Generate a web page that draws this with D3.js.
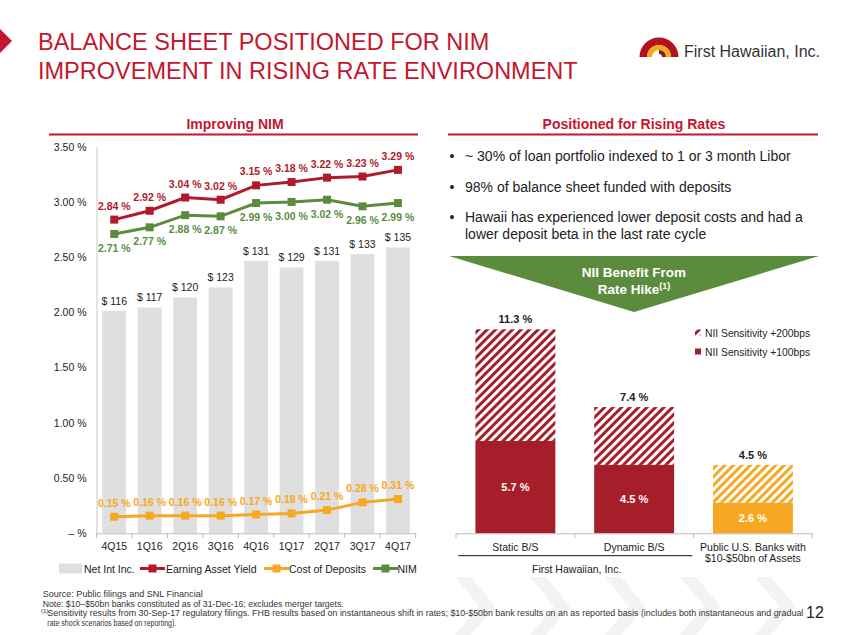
<!DOCTYPE html>
<html><head><meta charset="utf-8">
<script src="https://cdn.jsdelivr.net/npm/d3@7"></script>
<style>
body{margin:0;background:#fff;}
svg{display:block;font-family:"Liberation Sans",Arial,Helvetica,sans-serif;}
</style></head><body>
<svg id="c" width="847" height="635"></svg>
<script>
// ---------- DATA ----------
const quarters = ["4Q15","1Q16","2Q16","3Q16","4Q16","1Q17","2Q17","3Q17","4Q17"];
const netIntInc = [116,117,120,123,131,129,131,133,135];
const earningAssetYield = [2.84,2.92,3.04,3.02,3.15,3.18,3.22,3.23,3.29];
const nimValues = [2.71,2.77,2.88,2.87,2.99,3.00,3.02,2.96,2.99];
const costOfDeposits = [0.15,0.16,0.16,0.16,0.17,0.18,0.21,0.28,0.31];
const pctTicks = [0,0.5,1,1.5,2,2.5,3,3.5];
const pctTickLabels = ["– %","0.50 %","1.00 %","1.50 %","2.00 %","2.50 %","3.00 %","3.50 %"];
const leftLegend = ["Net Int Inc.","Earning Asset Yield","Cost of Deposits","NIM"];

const sensCategories = ["Static B/S","Dynamic B/S","Public U.S. Banks with|$10-$50bn of Assets"];
const sens100 = [5.7,4.5,2.6];
const sens200 = [11.3,7.4,4.5];
const rightLegend = ["NII Sensitivity +200bps","NII Sensitivity +100bps"];

const bullets = [
  ["~ 30% of loan portfolio indexed to 1 or 3 month Libor"],
  ["98% of balance sheet funded with deposits"],
  ["Hawaii has experienced lower deposit costs and had a","lower deposit beta in the last rate cycle"]
];
const footnotes = [
  "Source: Public filings and SNL Financial",
  "Note: $10–$50bn banks constituted as of 31-Dec-16; excludes merger targets.",
  "Sensitivity results from 30-Sep-17 regulatory filings.  FHB results based on instantaneous shift in rates; $10-$50bn bank results on an as reported basis (includes both instantaneous and gradual",
  "rate shock scenarios based on reporting)."
];

// ---------- STYLE ----------
const RED = "#C3172F", LINE_RED = "#B01A2B", BAR_RED = "#A61E29", GREEN = "#5B8C3E", ORANGE = "#F7A823", GRAY_BAR = "#DFDFDF", TXT = "#222";

const svg = d3.select("#c");
const defs = svg.append("defs");
function hatch(id, color){
  const p = defs.append("pattern").attr("id", id).attr("patternUnits","userSpaceOnUse")
    .attr("width", 6).attr("height", 6).attr("patternTransform","rotate(45)");
  p.append("rect").attr("width",6).attr("height",6).attr("fill","#fff");
  p.append("rect").attr("width",3).attr("height",6).attr("fill",color);
}
hatch("hRed", BAR_RED);
hatch("hOrange", ORANGE);

// faint background chevrons
const bg = svg.append("g").attr("fill","#f3f3f3");
[455,530,605,680,755].forEach(x=>{
  bg.append("path").attr("d",`M${x},577 L${x+16},577 L${x+40},606 L${x+16},635 L${x},635 L${x+24},606 Z`);
});

// ---------- HEADER ----------
svg.append("path").attr("d","M0,29 L12,41 L0,53 Z").attr("fill",RED);
svg.append("text").attr("x",38).attr("y",50).attr("font-size",23.5).attr("fill",RED)
  .text("BALANCE SHEET POSITIONED FOR NIM");
svg.append("text").attr("x",38).attr("y",79).attr("font-size",23.5).attr("fill",RED)
  .text("IMPROVEMENT IN RISING RATE ENVIRONMENT");
// logo
const logo = svg.append("g").attr("transform","translate(659,57)");
const arc = d3.arc();
logo.append("path").attr("d",arc({innerRadius:12,outerRadius:19.5,startAngle:-Math.PI/2,endAngle:Math.PI/2})).attr("fill","#B3131D");
logo.append("path").attr("d",arc({innerRadius:7,outerRadius:12,startAngle:-Math.PI/2,endAngle:Math.PI/2})).attr("fill","#F4A81D");
logo.append("path").attr("d",arc({innerRadius:3,outerRadius:7,startAngle:0,endAngle:Math.PI/2})).attr("fill","#8C1B1B");
svg.append("text").attr("x",684).attr("y",56.5).attr("font-size",16).attr("fill","#333").text("First Hawaiian, Inc.");

// ---------- PANEL TITLES ----------
function panelTitle(cx, x0, x1, label){
  svg.append("text").attr("x",cx).attr("y",129).attr("text-anchor","middle").attr("font-size",14)
    .attr("font-weight","bold").attr("fill",RED).text(label);
  svg.append("line").attr("x1",x0).attr("x2",x1).attr("y1",134.5).attr("y2",134.5).attr("stroke",RED).attr("stroke-width",2);
}
panelTitle(235, 49, 418, "Improving NIM");
panelTitle(634, 448, 818, "Positioned for Rising Rates");

// ---------- LEFT CHART ----------
const yL = d3.scaleLinear().domain([0,3.5]).range([533.3,146.7]);
const yBar = d3.scaleLinear().domain([49.3,165.2]).range([533.3,146.7]);
const xL = d3.scaleBand().domain(quarters).range([96.5,415.7]).paddingInner(0.33).paddingOuter(0.165);
const cx = q => xL(q) + xL.bandwidth()/2;

const gL = svg.append("g");
gL.selectAll("rect.bar").data(quarters).join("rect").attr("class","bar")
  .attr("x",q=>xL(q)).attr("width",xL.bandwidth())
  .attr("y",(q,i)=>yBar(netIntInc[i])).attr("height",(q,i)=>yL(0)-yBar(netIntInc[i]))
  .attr("fill",GRAY_BAR);
gL.selectAll("text.barlab").data(quarters).join("text").attr("class","barlab")
  .attr("x",cx).attr("y",(q,i)=>yBar(netIntInc[i])-6).attr("text-anchor","middle")
  .attr("font-size",10.5).attr("fill",TXT).text((q,i)=>"$ "+netIntInc[i]);

// y axis
const yAxis = d3.axisLeft(yL).tickValues(pctTicks).tickFormat((d,i)=>pctTickLabels[i]).tickSize(0).tickPadding(10);
const ya = gL.append("g").attr("transform","translate(96.5,0)").call(yAxis);
ya.select(".domain").attr("stroke","#c8c8c8");
ya.selectAll("text").attr("font-size",10.5).attr("fill",TXT).attr("font-family","Liberation Sans, Arial, sans-serif");

// x axis
const xAxis = d3.axisBottom(xL).tickSize(0).tickPadding(9);
const xa = gL.append("g").attr("transform","translate(0,533.3)").call(xAxis);
xa.select(".domain").attr("stroke","#bdbdbd");
xa.selectAll("text").attr("font-size",10.5).attr("fill",TXT).attr("font-family","Liberation Sans, Arial, sans-serif");
d3.range(quarters.length+1).forEach(i=>{
  const x = xL.range()[0] + i*xL.step();
  gL.append("line").attr("x1",x).attr("x2",x).attr("y1",533.3).attr("y2",538).attr("stroke","#bdbdbd");
});

function series(vals, color, labelOffset){
  const line = d3.line().x((d,i)=>cx(quarters[i])).y(d=>yL(d));
  gL.append("path").attr("d",line(vals)).attr("fill","none").attr("stroke",color).attr("stroke-width",3);
  gL.selectAll(null).data(vals).join("rect")
    .attr("x",(d,i)=>cx(quarters[i])-4).attr("y",d=>yL(d)-4).attr("width",8).attr("height",8).attr("fill",color);
  gL.selectAll(null).data(vals).join("text")
    .attr("x",(d,i)=>cx(quarters[i])).attr("y",d=>yL(d)+labelOffset).attr("text-anchor","middle")
    .attr("font-size",10.5).attr("font-weight","bold").attr("fill",color).text(d=>d.toFixed(2)+" %");
}
series(earningAssetYield, LINE_RED, -10);
series(nimValues, GREEN, 18);
series(costOfDeposits, ORANGE, -10);

// left legend
const legY = 568.5;
const lg = svg.append("g").attr("font-size",10.5).attr("fill",TXT);
lg.append("rect").attr("x",59).attr("y",legY-5).attr("width",23).attr("height",10).attr("fill",GRAY_BAR);
lg.append("text").attr("x",84).attr("y",legY+4).text(leftLegend[0]);
[[140,LINE_RED,166,1],[264,ORANGE,289,2],[373,GREEN,397.5,3]].forEach(([x,c,tx,i])=>{
  lg.append("line").attr("x1",x).attr("x2",x+25).attr("y1",legY).attr("y2",legY).attr("stroke",c).attr("stroke-width",3);
  lg.append("rect").attr("x",x+8.5).attr("y",legY-4).attr("width",8).attr("height",8).attr("fill",c);
  lg.append("text").attr("x",tx).attr("y",legY+4).text(leftLegend[i]);
});

// ---------- RIGHT PANEL ----------
const bl = [[160.5],[192],[222,239]];
bullets.forEach((lines,i)=>{
  svg.append("text").attr("x",449.5).attr("y",bl[i][0]).attr("font-size",14).attr("fill",TXT).text("•");
  lines.forEach((t,j)=>{
    svg.append("text").attr("x",465).attr("y",bl[i][j]).attr("font-size",14).attr("fill",TXT).text(t);
  });
});

svg.append("path").attr("d","M449,256 L819,256 L634,312 Z").attr("fill",GREEN);
svg.append("text").attr("x",634).attr("y",277).attr("text-anchor","middle").attr("font-size",13.5)
  .attr("font-weight","bold").attr("fill","#fff").text("NII Benefit From");
const rh = svg.append("text").attr("x",634).attr("y",294).attr("text-anchor","middle").attr("font-size",13.5)
  .attr("font-weight","bold").attr("fill","#fff");
rh.append("tspan").text("Rate Hike");
rh.append("tspan").attr("font-size",9).attr("dy",-5).text("(1)");

const xR = d3.scaleBand().domain(sensCategories).range([456,812.3]).paddingInner(0.327).paddingOuter(0.1635);
const yR = d3.scaleLinear().domain([1.07,11.3]).range([533.3,329.3]);
const gR = svg.append("g");
const solidCol = [BAR_RED, BAR_RED, ORANGE];
const hatchCol = ["url(#hRed)","url(#hRed)","url(#hOrange)"];
gR.selectAll("rect.h").data(sensCategories).join("rect").attr("class","h")
  .attr("x",c=>xR(c)).attr("width",xR.bandwidth())
  .attr("y",(c,i)=>yR(sens200[i])).attr("height",(c,i)=>yR(sens100[i])-yR(sens200[i]))
  .attr("fill",(c,i)=>hatchCol[i]);
gR.selectAll("rect.s").data(sensCategories).join("rect").attr("class","s")
  .attr("x",c=>xR(c)).attr("width",xR.bandwidth())
  .attr("y",(c,i)=>yR(sens100[i])).attr("height",(c,i)=>yR.range()[0]-yR(sens100[i]))
  .attr("fill",(c,i)=>solidCol[i]);
gR.selectAll("text.t").data(sensCategories).join("text").attr("class","t")
  .attr("x",c=>xR(c)+xR.bandwidth()/2).attr("y",(c,i)=>yR(sens200[i])-6).attr("text-anchor","middle")
  .attr("font-size",11).attr("font-weight","bold").attr("fill",TXT).text((c,i)=>sens200[i].toFixed(1)+" %");
gR.selectAll("text.i").data(sensCategories).join("text").attr("class","i")
  .attr("x",c=>xR(c)+xR.bandwidth()/2).attr("y",(c,i)=>(yR(sens100[i])+yR.range()[0])/2+4).attr("text-anchor","middle")
  .attr("font-size",11).attr("font-weight","bold").attr("fill","#fff").text((c,i)=>sens100[i].toFixed(1)+" %");

const xRa = gR.append("g").attr("transform","translate(0,533.3)").call(d3.axisBottom(xR).tickSize(0).tickFormat(""));
xRa.select(".domain").attr("stroke","#bdbdbd");
d3.range(sensCategories.length+1).forEach(i=>{
  const x = xR.range()[0] + i*xR.step();
  gR.append("line").attr("x1",x).attr("x2",x).attr("y1",533.3).attr("y2",538).attr("stroke","#bdbdbd");
});
sensCategories.forEach(c=>{
  c.split("|").forEach((t,j)=>{
    gR.append("text").attr("x",xR(c)+xR.bandwidth()/2).attr("y",550.5+j*11.7).attr("text-anchor","middle")
      .attr("font-size",10.5).attr("fill",TXT).text(t);
  });
});
gR.append("line").attr("x1",458.3).attr("x2",692.3).attr("y1",555.7).attr("y2",555.7).attr("stroke","#111");
gR.append("text").attr("x",576.7).attr("y",573).attr("text-anchor","middle").attr("font-size",10.5).attr("fill",TXT).text("First Hawaiian, Inc.");

// right legend
const rl = svg.append("g").attr("font-size",10.3).attr("fill",TXT);
rl.append("rect").attr("x",695).attr("y",329.5).attr("width",6).attr("height",6).attr("fill","url(#hRed)");
rl.append("text").attr("x",705).attr("y",337).text(rightLegend[0]);
rl.append("rect").attr("x",695).attr("y",348.5).attr("width",6).attr("height",6).attr("fill",BAR_RED);
rl.append("text").attr("x",705).attr("y",356).text(rightLegend[1]);

// ---------- FOOTER ----------
const ft = svg.append("g").attr("font-size",8.6).attr("fill","#333");
const fLines = [[42.7,597,160],[42.7,606.5,301],[47.3,616,756],[47.3,625.5,129]];
footnotes.forEach((t,i)=>{
  ft.append("text").attr("x",fLines[i][0]).attr("y",fLines[i][1])
    .attr("textLength",fLines[i][2]).attr("lengthAdjust","spacingAndGlyphs").text(t);
});
ft.append("text").attr("x",41).attr("y",612.5).attr("font-size",6).text("(1)");
svg.append("text").attr("x",806).attr("y",618).attr("font-size",16).attr("fill","#222").text("12");
</script>
</body></html>
